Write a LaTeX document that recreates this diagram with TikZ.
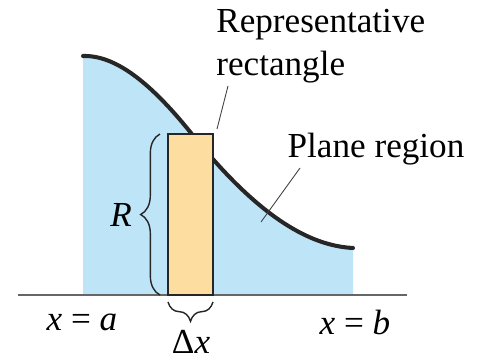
\documentclass[tikz,border=0pt]{standalone}
\usepackage{fontspec}
\setmainfont{Liberation Serif}
\usetikzlibrary{decorations.pathreplacing,positioning}
\definecolor{regionblue}{RGB}{190,228,247}
\definecolor{rectorange}{RGB}{253,222,160}

\begin{document}
\begin{tikzpicture}[x=0.02cm,y=-0.02cm,
  lbl/.style={font=\fontsize{20}{24.4}\selectfont,inner sep=0pt},
  ldr/.style={draw=black!75,line width=0.5pt},
  brc/.style={decorate,decoration={brace,amplitude=11pt},line width=0.8pt,draw=black!85}]
\useasboundingbox (0,0) rectangle (484,360);
% region under the curve
\coordinate (ctop) at (83,56);
\coordinate (cmid) at (191,133);
\coordinate (cend) at (353,248);
\fill[regionblue] (83,295) -- (ctop) .. controls (115,55) and (150,82) .. (cmid)
  .. controls (232,184) and (290,245) .. (cend) -- (353,295) -- cycle;
\draw[line width=2.3pt,black!85,line cap=round] (ctop) .. controls (115,55) and (150,82) .. (cmid)
  .. controls (232,184) and (290,245) .. (cend);
% axis
\coordinate (axl) at (18,295);
\coordinate (axr) at (407,295);
\draw[black!60,line width=0.7pt] (axl) -- (axr);
% representative rectangle
\draw[fill=rectorange,draw=black!85,line width=0.7pt] (168,134) rectangle (213,295);
% braces
\coordinate (rb) at (160,295);
\coordinate (rt) at (160,134);
\draw[brc] (rb) -- (rt);
\coordinate (dr) at (213,302);
\coordinate (dl) at (168,302);
\draw[brc] (dr) -- (dl);
% labels
\node[lbl] (R) at (121,215) {\textit{R}};
\node[lbl] (dx) at (191,342) {Δ\textit{x}};
\node[lbl] (xa) at (82,322) {\textit{x} = \textit{a}};
\node[lbl] (xb) at (355,322) {\textit{x} = \textit{b}};
\node[lbl,align=left,anchor=west] (rep) at (216,46) {Representative\\rectangle};
\node[lbl] (plane) at (376,149) {Plane region};
% leaders
\coordinate (rectend) at (217,129);
\coordinate (planeend) at (261,222);
\draw[ldr] (228,86) -- (rectend);
\draw[ldr] (300,168) -- (planeend);
\end{tikzpicture}
\end{document}
